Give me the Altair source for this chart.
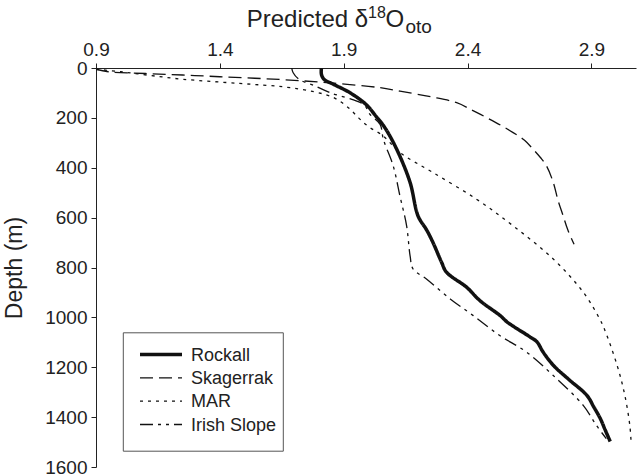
import altair as alt
import pandas as pd

series = ["Rockall", "Skagerrak", "MAR", "Irish Slope"]

rockall_depth = [0, 25, 45, 66, 99, 146, 193, 239, 326, 459, 593, 650, 699, 779, 819, 879, 933, 993, 1018, 1079, 1098, 1139, 1193, 1250, 1313, 1360, 1406, 1450, 1498]
rockall_val = [1.81, 1.81, 1.82, 1.86, 1.925, 1.99, 2.03, 2.066, 2.114, 2.168, 2.20, 2.235, 2.26, 2.295, 2.315, 2.396, 2.45, 2.532, 2.559, 2.653, 2.68, 2.705, 2.747, 2.81, 2.882, 2.91, 2.936, 2.955, 2.976]

skag_depth = [5, 15, 22, 28, 35, 46, 60, 79, 93, 115, 139, 170, 199, 230, 259, 290, 326, 360, 393, 459, 530, 593, 650, 707]
skag_val = [0.9, 0.95, 1.1, 1.25, 1.4, 1.64, 1.85, 2.047, 2.127, 2.25, 2.356, 2.42, 2.477, 2.535, 2.584, 2.63, 2.665, 2.695, 2.719, 2.746, 2.765, 2.786, 2.805, 2.83]

mar_depth = [5, 15, 30, 45, 62, 76, 95, 119, 160, 200, 235, 273, 339, 419, 526, 633, 766, 899, 1000, 1046, 1193, 1313, 1433, 1497]
mar_val = [0.9, 1.0, 1.12, 1.25, 1.48, 1.66, 1.78, 1.86, 1.92, 1.96, 2.0, 2.06, 2.127, 2.26, 2.436, 2.584, 2.746, 2.867, 2.93, 2.952, 3.004, 3.035, 3.055, 3.06]

irish_depth = [0, 19, 46, 70, 99, 146, 186, 226, 286, 393, 513, 633, 753, 806, 846, 926, 993, 1073, 1139, 1233, 1353, 1433, 1486]
irish_val = [1.69, 1.696, 1.72, 1.78, 1.845, 1.98, 2.006, 2.047, 2.06, 2.10, 2.127, 2.154, 2.168, 2.18, 2.234, 2.33, 2.423, 2.53, 2.638, 2.746, 2.867, 2.92, 2.96]

x_ticks = [0.9, 1.4, 1.9, 2.4, 2.9]
y_ticks = [0, 200, 400, 600, 800, 1000, 1200, 1400, 1600]

rows = []
for name, ds, vs in [("Rockall", rockall_depth, rockall_val),
                     ("Skagerrak", skag_depth, skag_val),
                     ("MAR", mar_depth, mar_val),
                     ("Irish Slope", irish_depth, irish_val)]:
    for i, (d, v) in enumerate(zip(ds, vs)):
        rows.append({"series": name, "depth": d, "value": v, "i": i})
df = pd.DataFrame(rows)

FONT = "Liberation Sans"
INK = "#111"

dash_scale = alt.Scale(domain=series,
                       range=[[1, 0], [13, 6], [3, 5], [13, 5, 3, 5, 3, 5]])
width_scale = alt.Scale(type="ordinal", domain=series, range=[3.5, 1.3, 1.3, 1.3])

lines = alt.Chart(df).mark_line(color=INK, strokeCap="butt", clip=True,
                                interpolate="catmull-rom").encode(
    x=alt.X("value:Q", scale=alt.Scale(domain=[0.9, 3.08], nice=False, zero=False),
            axis=alt.Axis(orient="top", values=x_ticks, format=".1f", title=None,
                          labelFontSize=19, tickSize=5, labelPadding=4,
                          labelFlush=False)),
    y=alt.Y("depth:Q", scale=alt.Scale(domain=[0, 1600], reverse=True, nice=False),
            axis=alt.Axis(values=y_ticks, format="d", title="Depth (m)", labelFontSize=19,
                          tickSize=5, labelPadding=4, titleFontSize=23,
                          titleFontWeight="normal", titlePadding=18,
                          labelFlush=False)),
    strokeDash=alt.StrokeDash("series:N", scale=dash_scale, legend=None),
    strokeWidth=alt.StrokeWidth("series:N", scale=width_scale, legend=None),
    detail="series:N",
    order=alt.Order("i:Q"),
)

# hand-drawn legend (box, sample strokes, labels)
leg_df = pd.DataFrame({"series": series, "row": [0, 1, 2, 3]})
row_y = alt.Y("row:Q", scale=alt.Scale(domain=[0, 3], range=[286.5, 356.5]), axis=None)

dummy = pd.DataFrame({"a": [0]})
leg_box = alt.Chart(dummy).mark_rect(fill="white", stroke="#555", strokeWidth=1).encode(
    x=alt.value(27.3), x2=alt.value(187.3), y=alt.value(264.8), y2=alt.value(383.2))

leg_lines = alt.Chart(leg_df).mark_rule(color=INK, strokeCap="butt").encode(
    x=alt.value(44), x2=alt.value(86), y=row_y,
    strokeDash=alt.StrokeDash("series:N", scale=dash_scale, legend=None),
    strokeWidth=alt.StrokeWidth("series:N", scale=width_scale, legend=None),
)
leg_text = alt.Chart(leg_df).mark_text(align="left", baseline="middle", fontSize=18,
                                       font=FONT, color="#222", dy=1).encode(
    x=alt.value(95), y=row_y, text="series:N")

legend = alt.layer(leg_box, leg_lines, leg_text)

def txt(s, px, py, size):
    return alt.Chart(dummy).mark_text(text=s, fontSize=size, align="left",
                                      baseline="alphabetic", font=FONT, color="#222").encode(
        x=alt.value(px), y=alt.value(py))

title_parts = [
    txt("Predicted δ", 150.7, -41.5, 24),
    txt("18", 272, -50, 16),
    txt("O", 289.5, -41.5, 24),
    txt("oto", 309.5, -35.5, 19),
]

chart = alt.layer(lines, legend, *title_parts).resolve_scale(y="independent").properties(
    width=540, height=399,
    autosize=alt.AutoSizeParams(type="none"),
    padding={"left": 96, "top": 68, "right": 2, "bottom": 9},
).configure(font=FONT).configure_view(stroke=None).configure_axis(
    grid=False, domainColor="#222", tickColor="#222", labelColor="#222",
    titleColor="#222", labelFont=FONT, titleFont=FONT,
)

chart.save("out.html", embed_options={"renderer": "svg", "actions": False})
